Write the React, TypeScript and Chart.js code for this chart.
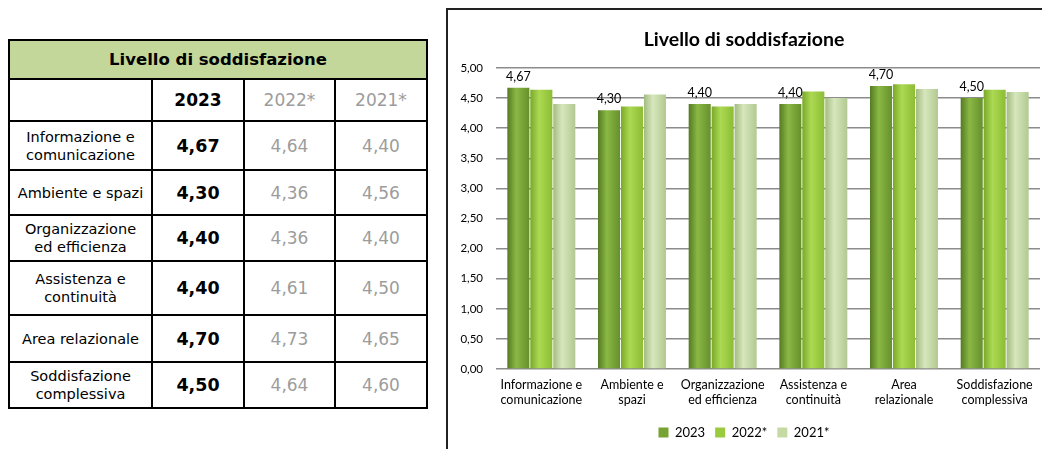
import React, { useEffect, useRef } from "react";
import { Chart, registerables } from "chart.js";

Chart.register(...registerables);

const chartTitle = "Livello di soddisfazione";
const categories: string[][] = [
  ["Informazione e", "comunicazione"],
  ["Ambiente e", "spazi"],
  ["Organizzazione", "ed efficienza"],
  ["Assistenza e", "continuità"],
  ["Area", "relazionale"],
  ["Soddisfazione", "complessiva"],
];
const tableRowLabels: string[][] = [
  ["Informazione e", "comunicazione"],
  ["Ambiente e spazi"],
  ["Organizzazione", "ed efficienza"],
  ["Assistenza e", "continuità"],
  ["Area relazionale"],
  ["Soddisfazione", "complessiva"],
];
const seriesLabels = ["2023", "2022*", "2021*"];
const values2023 = [4.67, 4.3, 4.4, 4.4, 4.7, 4.5];
const values2022 = [4.64, 4.36, 4.36, 4.61, 4.73, 4.64];
const values2021 = [4.4, 4.56, 4.4, 4.5, 4.65, 4.6];
const yMin = 0;
const yMax = 5;
const yStep = 0.5;

const flatColors = ["#77a234", "#9acb3e", "#c5daa3"];
const gradStops = [
  ["#557a22", "#8ab845", "#66902b"],
  ["#7aa829", "#acd953", "#8cbd34"],
  ["#a3bb82", "#d6e7bc", "#b2c992"],
];

const fmt = (v: number) => v.toFixed(2).replace(".", ",");

// total row heights incl. their bottom border
const rowHeights = [49, 45, 46, 54, 47, 46];
const colWidths = [143, 92, 91, 94];

function DataTable() {
  const border = "2px solid #000";
  const allVals = [values2023, values2022, values2021];
  const cell = (w: number, h: number, content: React.ReactNode, extra: React.CSSProperties = {}) => (
    <div
      style={{
        width: w,
        height: h,
        boxSizing: "border-box",
        display: "flex",
        alignItems: "center",
        justifyContent: "center",
        textAlign: "center",
        ...extra,
      }}
    >
      {content}
    </div>
  );
  const grey = "#9c9c9c";
  return (
    <div
      style={{
        position: "absolute",
        left: 8,
        top: 39,
        width: 420,
        border: border,
        boxSizing: "border-box",
        fontFamily: "'DejaVu Sans', Verdana, sans-serif",
        background: "#fff",
        color: "#000",
      }}
    >
      {cell(416, 39, chartTitle, { background: "#c4d79b", fontWeight: "bold", fontSize: 16.5, borderBottom: border })}
      <div style={{ display: "flex", borderBottom: border }}>
        {cell(colWidths[0], 40, "", { borderRight: border })}
        {cell(colWidths[1], 40, seriesLabels[0], { fontWeight: "bold", fontSize: 17, borderRight: border })}
        {cell(colWidths[2], 40, seriesLabels[1], { fontSize: 17, color: grey, borderRight: border })}
        {cell(colWidths[3] - 4, 40, seriesLabels[2], { fontSize: 17, color: grey })}
      </div>
      {tableRowLabels.map((lbl, i) => (
        <div key={i} style={{ display: "flex", borderBottom: i < tableRowLabels.length - 1 ? border : "none" }}>
          {cell(
            colWidths[0],
            rowHeights[i] - 2,
            <div style={{ fontSize: 14.5, lineHeight: "18px" }}>
              {lbl.map((l, k) => (
                <div key={k}>{l}</div>
              ))}
            </div>,
            { borderRight: border }
          )}
          {cell(colWidths[1], rowHeights[i] - 2, fmt(allVals[0][i]), { fontWeight: "bold", fontSize: 17.5, borderRight: border })}
          {cell(colWidths[2], rowHeights[i] - 2, fmt(allVals[1][i]), { fontSize: 17, color: grey, borderRight: border })}
          {cell(colWidths[3] - 4, rowHeights[i] - 2, fmt(allVals[2][i]), { fontSize: 17, color: grey })}
        </div>
      ))}
    </div>
  );
}

const gradientPlugin = {
  id: "barGradient",
  beforeDatasetsDraw(chart: any) {
    const ctx = chart.ctx;
    chart.data.datasets.forEach((_: any, di: number) => {
      const meta = chart.getDatasetMeta(di);
      meta.data.forEach((el: any) => {
        const { x, width } = el.getProps(["x", "width"], true);
        const g = ctx.createLinearGradient(x - width / 2, 0, x + width / 2, 0);
        const s = gradStops[di];
        g.addColorStop(0, s[0]);
        g.addColorStop(0.4, s[1]);
        g.addColorStop(1, s[2]);
        el.options = { ...el.options, backgroundColor: g };
      });
    });
  },
};

const labelPlugin = {
  id: "valueLabels",
  afterDatasetsDraw(chart: any) {
    const ctx = chart.ctx;
    const meta = chart.getDatasetMeta(0);
    ctx.save();
    ctx.font = "12.5px Lato, 'Open Sans', sans-serif";
    ctx.fillStyle = "#000";
    ctx.textAlign = "center";
    ctx.textBaseline = "bottom";
    meta.data.forEach((el: any, i: number) => {
      ctx.fillText(fmt(values2023[i]), el.x, el.y - 5);
    });
    ctx.restore();
  },
};

function BarChart() {
  const ref = useRef<HTMLCanvasElement>(null);
  useEffect(() => {
    if (!ref.current) return;
    const chart = new Chart(ref.current, {
      type: "bar",
      data: {
        labels: categories,
        datasets: [
          { label: seriesLabels[0], data: values2023, backgroundColor: flatColors[0] },
          { label: seriesLabels[1], data: values2022, backgroundColor: flatColors[1] },
          { label: seriesLabels[2], data: values2021, backgroundColor: flatColors[2] },
        ],
      },
      options: {
        animation: false,
        responsive: false,
        devicePixelRatio: 1,
        layout: { padding: { left: 0, right: 2, top: 0, bottom: 0 } },
        datasets: { bar: { categoryPercentage: 0.76, barPercentage: 0.96 } },
        plugins: {
          tooltip: { enabled: false },
          title: {
            display: true,
            text: chartTitle,
            color: "#000",
            font: { family: "Lato, 'Open Sans', sans-serif", size: 19.5, weight: "bold", lineHeight: 1.2 },
            padding: { top: 18, bottom: 16.6 },
          },
          legend: {
            position: "bottom",
            labels: {
              color: "#000",
              boxWidth: 10,
              boxHeight: 10,
              padding: 10,
              font: { family: "Lato, 'Open Sans', sans-serif", size: 13 },
            },
          },
        },
        scales: {
          x: {
            grid: { display: false, drawTicks: false },
            border: { display: false },
            ticks: {
              color: "#000",
              padding: 9,
              maxRotation: 0,
              autoSkip: false,
              font: { family: "Lato, 'Open Sans', sans-serif", size: 12.5, lineHeight: 1.15 },
            },
            afterFit: (s: any) => {
              s.height = 47;
            },
          },
          y: {
            min: yMin,
            max: yMax,
            grid: { color: "#8c8c8c", lineWidth: 1.5, drawTicks: false },
            border: { display: false },
            ticks: {
              stepSize: yStep,
              color: "#000",
              padding: 13,
              font: { family: "Lato, 'Open Sans', sans-serif", size: 11.5 },
              callback: (v: any) => fmt(Number(v)),
            },
            afterFit: (s: any) => {
              s.width = 48;
            },
          },
        },
      },
      plugins: [gradientPlugin, labelPlugin],
    } as any);
    return () => chart.destroy();
  }, []);
  return (
    <canvas
      ref={ref}
      width={594}
      height={439}
      style={{ position: "absolute", left: 448, top: 10, width: 594, height: 439 }}
    />
  );
}

export default function App() {
  return (
    <div style={{ position: "fixed", left: 0, top: 0, width: 1042, height: 449, overflow: "hidden", background: "#fff" }}>
      <DataTable />
      <div
        style={{
          position: "absolute",
          left: 446,
          top: 8,
          width: 700,
          height: 500,
          border: "2px solid #222",
          boxSizing: "border-box",
        }}
      />
      <BarChart />
    </div>
  );
}
